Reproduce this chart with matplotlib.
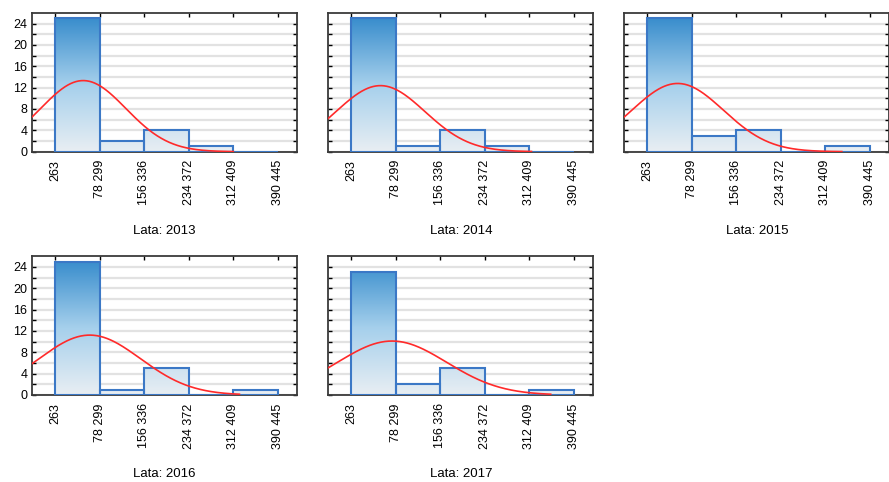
import numpy as np
import matplotlib
matplotlib.use("Agg")
import matplotlib.pyplot as plt
from matplotlib.colors import LinearSegmentedColormap

plt.rcParams['font.family'] = ['Liberation Sans', 'DejaVu Sans']

# bin edges (values) and their labels
edges = [263, 78299, 156336, 234372, 312409, 390445]
edge_labels = ['263', '78 299', '156 336', '234 372', '312 409', '390 445']

years = [2013, 2014, 2015, 2016, 2017]
counts_2013 = [25, 2, 4, 1, 0]
counts_2014 = [25, 1, 4, 1, 0]
counts_2015 = [25, 3, 4, 0, 1]
counts_2016 = [25, 1, 5, 0, 1]
counts_2017 = [23, 2, 5, 0, 1]
counts = [counts_2013, counts_2014, counts_2015, counts_2016, counts_2017]

# fitted normal curve parameters
fit_mean = [49700, 51800, 53800, 61100, 72100]
fit_sd = [74800, 78000, 80400, 88800, 95500]
fit_end = [312400, 316300, 341300, 323300, 349900]

bw = edges[1] - edges[0]
cmap = LinearSegmentedColormap.from_list('bars', ['#e8eef3', '#a6d0ec', '#3a8ecd'])

W, H = 889, 482
fig = plt.figure(figsize=(W / 100, H / 100), dpi=100)

lefts = [0.0363, 0.3693, 0.7023, 0.0363, 0.3693]
bottoms = [0.6853, 0.6853, 0.6853, 0.1805, 0.1805]
aw, ah = 0.298, 0.288

xmin = edges[0] - 0.51 * bw
xmax = edges[0] + 5.435 * bw
ymax = 26

for i, yr in enumerate(years):
    ax = fig.add_axes([lefts[i], bottoms[i], aw, ah])
    c = counts[i]
    # gradient bars
    for k in range(len(c)):
        if c[k] == 0:
            continue
        x0, x1 = edges[k], edges[k + 1]
        grad = np.linspace(0, c[k], 100).reshape(-1, 1)
        ax.imshow(grad, extent=(x0, x1, 0, c[k]), origin='lower', aspect='auto',
                  cmap=cmap, vmin=0, vmax=25, zorder=2)
    ax.bar(edges[:-1], c, width=bw, align='edge', fill=False,
           edgecolor='#3b78c6', linewidth=1.5, zorder=3)

    # normal fit
    x = np.linspace(xmin, fit_end[i], 300)
    n = sum(c)
    y = n * bw / (fit_sd[i] * np.sqrt(2 * np.pi)) * np.exp(-0.5 * ((x - fit_mean[i]) / fit_sd[i]) ** 2)
    ax.plot(x, y, color='#ff2a2a', lw=1.2, zorder=4)

    ax.set_xlim(xmin, xmax)
    ax.set_ylim(0, ymax)
    ax.set_yticks([0, 4, 8, 12, 16, 20, 24])
    ax.set_yticks(np.arange(0, 26, 2), minor=True)
    ax.grid(axis='y', which='both', color='#e2e2e2', lw=1.6, zorder=0)
    ax.set_axisbelow(True)
    ax.set_xticks(edges)
    ax.set_xticklabels(edge_labels, rotation=90, fontsize=9)
    ax.tick_params(axis='x', labelsize=9, length=3, width=1, top=True, bottom=False,
                   direction='in', pad=6)
    ax.tick_params(axis='y', which='both', labelsize=9, length=3, width=1, right=True,
                   direction='in')
    if i not in (0, 3):
        ax.set_yticklabels([])
    for s in ax.spines.values():
        s.set_color('#3a3a3a')
        s.set_linewidth(1.3)
    ax.set_xlabel('Lata: %d' % yr, fontsize=9.5, labelpad=14)

fig.savefig('out.png', dpi=100)
